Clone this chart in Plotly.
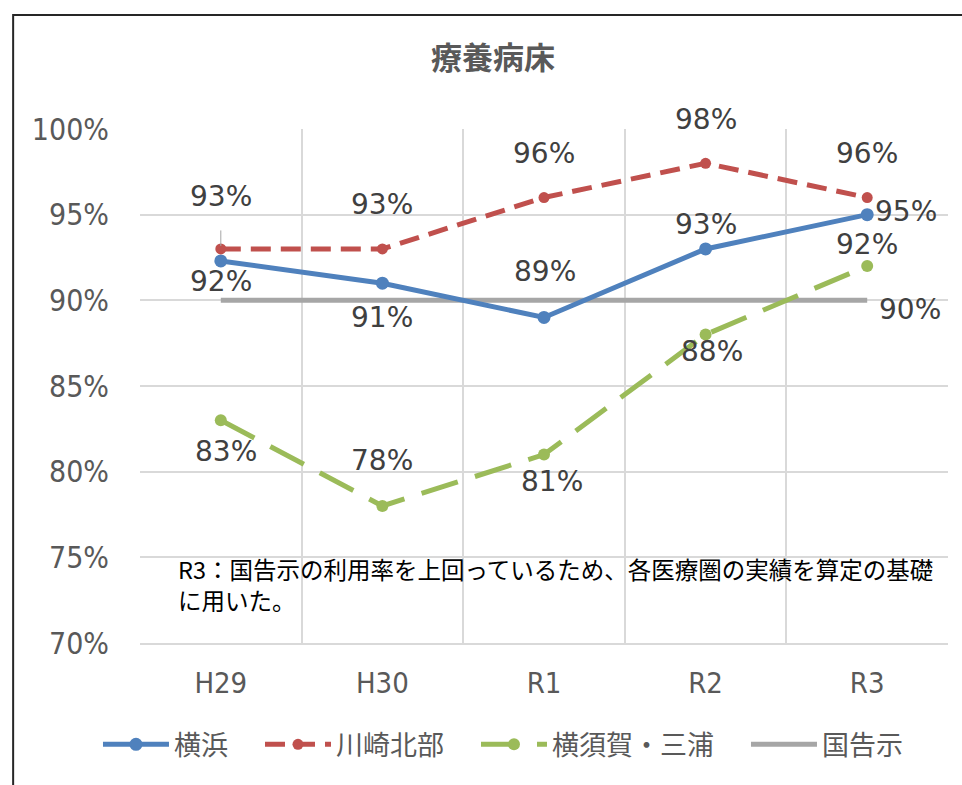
import plotly.graph_objects as go

years = ['H29', 'H30', 'R1', 'R2', 'R3']
yokohama = [92.3, 91.0, 89.0, 93.0, 95.0]
kawasaki = [93.0, 93.0, 96.0, 98.0, 96.0]
yokosuka = [83.0, 78.0, 81.0, 88.0, 92.0]
kokuji = [90.0, 90.0, 90.0, 90.0, 90.0]
ytick_vals = [70, 75, 80, 85, 90, 95, 100]
ytick_text = ['70%', '75%', '80%', '85%', '90%', '95%', '100%']
note = 'R3：国告示の利用率を上回っているため、各医療圏の実績を算定の基礎<br>に用いた。'

BLUE = '#4F81BD'
RED = '#C0504D'
GREEN = '#9BBB59'
GRAY = '#A6A6A6'
JP = 'Noto Sans CJK JP'
NUM = 'DejaVu Sans'
COND = 'DejaVu Sans Condensed'
GAP = '\u2002\u2002'  # spacing between legend entries

xs = list(range(len(years)))

fig = go.Figure()
fig.add_trace(go.Scatter(x=xs, y=kokuji, name='国告示', mode='lines', legendrank=4,
                         line=dict(color=GRAY, width=5)))
fig.add_trace(go.Scatter(x=xs, y=yokosuka, name='横須賀・三浦' + GAP, mode='lines+markers',
                         legendrank=3,
                         line=dict(color=GREEN, width=5, dash='38px,18px'),
                         marker=dict(color=GREEN, size=12)))
fig.add_trace(go.Scatter(x=xs, y=yokohama, name='横浜' + GAP, mode='lines+markers',
                         legendrank=1,
                         line=dict(color=BLUE, width=5),
                         marker=dict(color=BLUE, size=13)))
fig.add_trace(go.Scatter(x=xs, y=kawasaki, name='川崎北部' + GAP, mode='lines+markers',
                         legendrank=2,
                         line=dict(color=RED, width=5, dash='20px,10px'),
                         marker=dict(color=RED, size=11)))

# label offsets (px) per point, as Excel placed them
offsets = {
    'yokohama': [(0, -21), (0, -34), (1, 46), (0, 24), (39, 3)],
    'kawasaki': [(0, 52), (0, 44), (0, 44), (0, 44), (0, 44)],
    'yokosuka': [(5, -31), (0, 45), (8, -27), (6, -17), (0, 22)],
}
series = {'yokohama': yokohama, 'kawasaki': kawasaki, 'yokosuka': yokosuka}
for key, vals in series.items():
    for i, v in enumerate(vals):
        dx, dy = offsets[key][i]
        fig.add_annotation(x=xs[i], y=v, text=f'{round(v)}%', showarrow=False,
                           xshift=dx, yshift=dy,
                           font=dict(family=NUM, size=28, color='#404040'))
# leader line for H29 川崎北部
fig.add_annotation(x=xs[0], y=kawasaki[0], text='', showarrow=True, ax=0, ay=-20,
                   arrowhead=0, arrowwidth=1, arrowcolor=GRAY, standoff=3)
fig.add_annotation(x=xs[-1], y=kokuji[-1], text=f'{round(kokuji[-1])}%', showarrow=False,
                   xshift=43, yshift=-9, font=dict(family=NUM, size=28, color='#404040'))

fig.add_annotation(xref='paper', yref='paper', x=0.045, y=0.18, xanchor='left', yanchor='top',
                   text=note, showarrow=False, align='left',
                   font=dict(family=JP, size=23.5, color='#000000'))

# outer frame
fig.add_shape(type='rect', xref='paper', yref='paper', x0=-0.157, x1=1.05, y0=-0.35, y1=1.222,
              line=dict(color='#262626', width=2), fillcolor='rgba(0,0,0,0)')

fig.update_layout(
    width=962, height=785,
    margin=dict(l=140, r=14, t=129, b=142),
    paper_bgcolor='white', plot_bgcolor='white',
    title=dict(text='<b>療養病床</b>', x=0.5125, y=0.926, xref='container', yref='container',
               xanchor='center', yanchor='middle',
               font=dict(family=JP, size=31, color='#595959')),
    showlegend=True,
    legend=dict(orientation='h', x=-0.052, y=-0.198, xanchor='left', yanchor='middle',
                font=dict(family=JP, size=27, color='#595959'), itemwidth=66),
)
fig.update_xaxes(range=[-0.5, 4.5], tickvals=xs, ticktext=years, showgrid=False,
                 zeroline=False, showline=True, linecolor='#D9D9D9', linewidth=2,
                 ticklabelstandoff=13,
                 tickfont=dict(family=COND, size=29, color='#595959'),
                 minor=dict(tickmode='linear', tick0=-0.5, dtick=1, showgrid=True,
                            gridcolor='#D9D9D9', gridwidth=1.5, ticklen=0))
fig.update_yaxes(range=[70, 100], tickvals=ytick_vals, ticktext=ytick_text,
                 showgrid=True, gridcolor='#D9D9D9', gridwidth=1.5, zeroline=False,
                 ticklabelstandoff=30,
                 tickfont=dict(family=COND, size=30, color='#595959'))

fig.write_html('out.html', config={'displayModeBar': False},
               post_script="document.body.style.margin='0';")
